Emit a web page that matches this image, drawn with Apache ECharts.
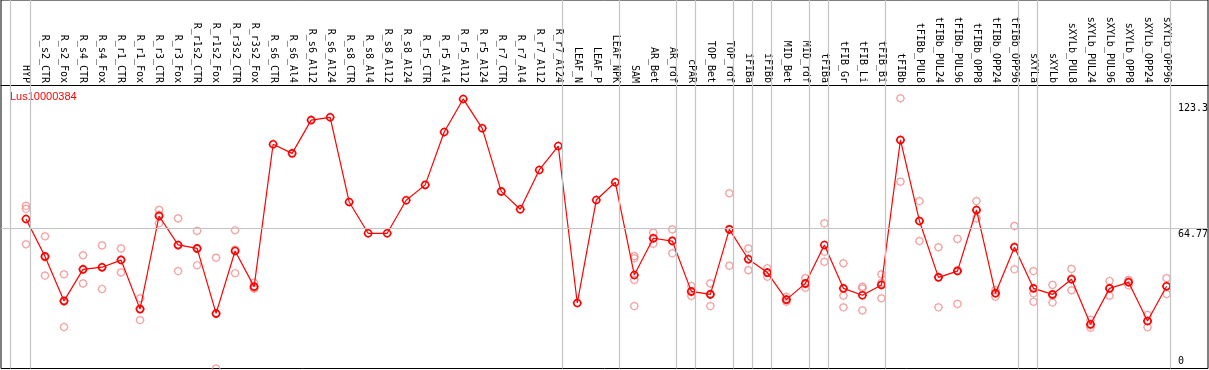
<!DOCTYPE html>
<html>
<head>
<meta charset="utf-8">
<script src="https://cdn.jsdelivr.net/npm/echarts@6/dist/echarts.min.js"></script>
<style>
html,body{margin:0;padding:0;background:#fff;}
#c{width:1209px;height:370px;}
</style>
</head>
<body>
<div id="c"></div>
<script>
const chartTitle = 'Lus10000384';
const categories = ['HYP','R_s2_CTR','R_s2_Fox','R_s4_CTR','R_s4_Fox','R_r1_CTR','R_r1_Fox','R_r3_CTR','R_r3_Fox','R_r1s2_CTR','R_r1s2_Fox','R_r3s2_CTR','R_r3s2_Fox','R_s6_CTR','R_s6_Al4','R_s6_Al12','R_s6_Al24','R_s8_CTR','R_s8_Al4','R_s8_Al12','R_s8_Al24','R_r5_CTR','R_r5_Al4','R_r5_Al12','R_r5_Al24','R_r7_CTR','R_r7_Al4','R_r7_Al12','R_r7_Al24','LEAF_N','LEAF_P','LEAF_NPK','SAM','AR_Bet','AR_rdf','cPAR','TOP_Bet','TOP_rdf','iFIBa','iFIBb','MID_Bet','MID_rdf','tFIBa','tFIB_Gr','tFIB_Li','tFIB_Bi','tFIBb','tFIBb_PUL8','tFIBb_PUL24','tFIBb_PUL96','tFIBb_OPP8','tFIBb_OPP24','tFIBb_OPP96','sXYLa','sXYLb','sXYLb_PUL8','sXYLb_PUL24','sXYLb_PUL96','sXYLb_OPP8','sXYLb_OPP24','sXYLb_OPP96'];
const means = [69.2,51.9,31.3,45.9,46.9,50.2,27.5,70.6,57.2,55.6,25.5,54.4,37.9,
  103.8,99.6,115.0,116.3,77.1,62.6,62.6,77.9,85.0,109.5,124.8,111.2,82.0,73.7,91.9,103.0,
  30.3,78.0,86.2,43.3,60.3,59.0,35.7,34.3,64.4,50.6,44.4,31.9,39.4,57.2,37.1,33.9,38.7,
  105.8,68.3,42.2,45.1,73.4,34.8,56.1,37.1,34.3,41.3,20.5,37.1,39.9,22.0,38.1];
const replicates = [
  [75.3,73.9,57.5],[61.2,51.5,43.0],[43.6,31.0,19.2],[52.4,45.9,39.4],[57.0,46.8,36.8],
  [55.6,50.5,44.5],[32.5,27.6,22.4],[73.4,71.2,67.2],[69.5,57.0,45.1],[63.7,55.3,47.8],
  [51.3,25.2,0],[64.0,55.0,44.1],[39.7,37.1,37.0],
  [],[],[],[],[],[],[],[],[],[],[],[],[],[],[],[],
  [],[],[],
  [52.0,51.0,41.0,28.9],[62.9,60.2,57.8],[64.4,59.3,53.3],[38.2,35.4,33.6],[39.4,34.6,28.9],
  [81.1,64.5,47.6],[55.6,50.7,45.5],[46.4,44.3,42.5],[33.2,31.6,30.9],[41.8,39.0,37.4],
  [67.2,54.1,49.4],[48.7,33.7,28.3],[37.9,37.1,26.9],[43.6,39.7,32.5],
  [125.1,105.8,86.5],[77.5,68.3,59.0],[56.1,42.2,28.3],[60.0,45.5,29.9],[77.5,73.2,69.5],
  [36.3,35.0,33.2],[66.0,56.4,45.9],[45.1,34.8,30.9],[38.7,33.8,30.5],[46.1,41.6,36.2],
  [22.5,20.0,18.9],[40.5,37.0,33.7],[41.0,40.2,38.5],[24.8,22.0,19.1],[41.8,38.0,34.5]
];
const yTickLabels = ['0','64.77','123.3'];
const yTicks = [0, 64.77, 123.3];
const refLine = 64.77;
const groupEnds = [-1,0,28,31,34,35,37,38,39,41,42,45,52,53,60];

const RED = '#ff0000';
const PINK = 'rgb(240,140,140)';
const GRAY = '#c4c4c4';
const MONO = '"DejaVu Sans Mono", monospace';
const marker = 'path://M0,-4.5L0,-3M0,3L0,4.5M-4.5,0L-3,0M3,0L4.5,0M-3.5,0A3.5,3.5,0,1,1,3.5,0A3.5,3.5,0,1,1,-3.5,0Z';

const meanData = means.map((v, i) => [i, v]);
const repData = [];
replicates.forEach((arr, i) => arr.forEach(v => repData.push([i, v])));
const sepLines = groupEnds.map(e => ({ xAxis: e < 0 ? -0.84 : e + 0.22 }));

const chart = echarts.init(document.getElementById('c'), null, { renderer: 'canvas' });
const option = {
  animation: false,
  backgroundColor: '#fff',
  grid: {
    left: 1, right: 1, top: 0, height: 368.5,
    show: true, borderColor: '#000', borderWidth: 1, backgroundColor: 'transparent',
    outerBoundsMode: 'none'
  },
  xAxis: {
    type: 'value', min: -1.315, max: 62.18, position: 'top', offset: -85,
    axisLine: { show: true, onZero: false, lineStyle: { color: '#000', width: 1 } },
    axisTick: { show: false },
    splitLine: { show: false },
    axisLabel: {
      customValues: categories.map((c, i) => i),
      formatter: v => categories[Math.round(v)] || '',
      rotate: 90, margin: 2, color: '#000', fontFamily: MONO, fontSize: 10
    }
  },
  yAxis: {
    type: 'value', min: 0, max: 170.6,
    axisLine: { show: false }, axisTick: { show: false },
    axisLabel: { show: false }, splitLine: { show: false }
  },
  series: [
    {
      type: 'scatter', name: 'reps', data: repData,
      symbol: marker, symbolSize: 9, z: 2,
      itemStyle: { color: 'rgba(0,0,0,0)', borderColor: PINK, borderWidth: 1.2 },
      markLine: {
        silent: true, symbol: 'none', animation: false,
        label: { show: false },
        lineStyle: { color: GRAY, type: 'solid', width: 1.2 },
        data: sepLines.concat([{ yAxis: refLine }])
      }
    },
    {
      type: 'line', name: 'mean', data: meanData,
      symbol: marker, symbolSize: 9, showAllSymbol: true, z: 3,
      lineStyle: { color: RED, width: 1.2 },
      itemStyle: { color: 'rgba(0,0,0,0)', borderColor: RED, borderWidth: 1.6 }
    }
  ]
};
chart.setOption(option);

const graphics = [{
  type: 'text', left: 10, top: 91,
  style: { text: chartTitle, fill: RED, font: '11px "Liberation Sans", Arial, sans-serif' }
}];
yTicks.forEach((v, k) => {
  const py = chart.convertToPixel({ yAxisIndex: 0 }, v);
  const isBottom = k === 0;
  graphics.push({
    type: 'text', x: 1178, y: isBottom ? py - 2 : py + 1,
    style: {
      text: yTickLabels[k], fill: '#000', font: '10px ' + MONO,
      align: 'left', verticalAlign: isBottom ? 'bottom' : 'top'
    }
  });
});
chart.setOption({ graphic: graphics });
</script>
</body>
</html>
